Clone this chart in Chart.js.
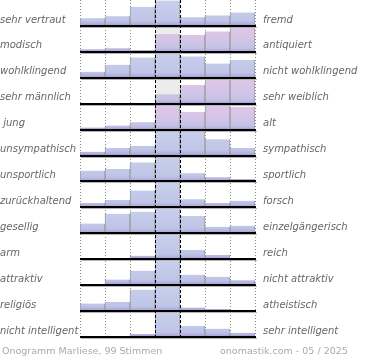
<!DOCTYPE html>
<html><head><meta charset="utf-8">
<script src="https://cdn.jsdelivr.net/npm/chart.js@4.4.1/dist/chart.umd.min.js"></script>
<style>
html,body{margin:0;padding:0;background:#fff;}
#wrap{position:relative;width:370px;height:360px;overflow:hidden;}
canvas{position:absolute;left:0;top:0;}
.foot{position:absolute;top:345px;font:9.5px "DejaVu Sans",sans-serif;color:#aaa;white-space:nowrap;line-height:12px;}
</style></head><body>
<div id="wrap"><canvas id="c" width="370" height="360"></canvas>
<div class="foot" style="left:2px">Onogramm Marliese, 99 Stimmen</div>
<div class="foot" style="left:220px">onomastik.com - 05 / 2025</div>
</div>
<script>
// ---- data ----
const bins = ['1','2','3','4','5','6','7'];
const leftLabels = ['sehr vertraut','modisch','wohlklingend','sehr männlich',' jung','unsympathisch','unsportlich','zurückhaltend','gesellig','arm','attraktiv','religiös','nicht intelligent'];
const rightLabels = ['fremd','antiquiert','nicht wohlklingend','sehr weiblich','alt','sympathisch','sportlich','forsch','einzelgängerisch','reich','nicht attraktiv','atheistisch','sehr intelligent'];

const rowVertraut       = [8,10,20,26,9,11,14];
const rowModisch        = [3,4,2,20,19,23,28];
const rowWohlklingend   = [5,11,17,21,18,12,15];
const rowMaennlich      = [0,0,0,12,24,31,32];
const rowJung           = [2,4,7,23,17,24,22];
const rowUnsympathisch  = [4,8,10,26,26,17,8];
const rowUnsportlich    = [13,15,23,30,10,5,3];
const rowZurueckhaltend = [6,10,23,34,11,6,9];
const rowGesellig       = [9,18,20,23,16,6,7];
const rowArm            = [0,0,8,59,22,10,0];
const rowAttraktiv      = [0,8,21,36,15,12,7];
const rowReligioes      = [11,13,31,36,5,3,0];
const rowIntelligent    = [0,0,6,48,21,16,8];

const rows = [rowVertraut,rowModisch,rowWohlklingend,rowMaennlich,rowJung,rowUnsympathisch,
  rowUnsportlich,rowZurueckhaltend,rowGesellig,rowArm,rowAttraktiv,rowReligioes,rowIntelligent];

// ---- styling helpers ----
const FULL = 0.96;
const gradCache = {};
function rowGradient(chart, r, vals){
  const ca = chart.chartArea, ys = chart.scales && chart.scales.y;
  if (!ca || !ys) return '#c3c9e8';
  const top = ys.getPixelForValue(r), bot = ys.getPixelForValue(r + 1);
  const key = r + '_' + top + '_' + bot;
  if (gradCache[key]) return gradCache[key];
  const g = chart.ctx.createLinearGradient(0, top, 0, bot);
  const pink = vals.indexOf(Math.max(...vals)) > 3;
  if (pink) {
    g.addColorStop(0, '#e0c6e6'); g.addColorStop(0.5, '#d5c5e7');
    g.addColorStop(0.85, '#c4c2e6'); g.addColorStop(0.93, '#b8b2df'); g.addColorStop(1, '#a294cc');
  } else {
    g.addColorStop(0, '#c9d0ec'); g.addColorStop(0.8, '#bfc5e7');
    g.addColorStop(0.92, '#b3afde'); g.addColorStop(1, '#9e92cb');
  }
  gradCache[key] = g;
  return g;
}

const datasets = rows.map((vals, r) => {
  const mx = Math.max(...vals);
  return {
    data: vals.map(v => [r + 1, r + 1 - FULL * v / mx]),
    backgroundColor: (ctx) => rowGradient(ctx.chart, r, vals),
    borderColor: '#9a9a9a',
    borderWidth: {left: 1, right: 1, top: 0, bottom: 0},
    borderSkipped: false,
    grouped: false,
    barPercentage: 1,
    categoryPercentage: 1
  };
});

const overlay = {
  id: 'overlay',
  beforeDatasetsDraw(chart){
    const {ctx, chartArea: ca, scales: {x}} = chart;
    const w = x.width / bins.length;
    ctx.save();
    ctx.fillStyle = '#ececec';
    ctx.fillRect(x.left + 3 * w, ca.top, w, ca.bottom - ca.top);
    ctx.strokeStyle = '#8a8a8a'; ctx.lineWidth = 1; ctx.setLineDash([1, 2]);
    for (let k = 0; k <= bins.length; k++) {
      if (k === 3 || k === 4) continue;
      const px = Math.round(x.left + k * w) + 0.5;
      ctx.beginPath(); ctx.moveTo(px, ca.top); ctx.lineTo(px, ca.bottom + 1); ctx.stroke();
    }
    ctx.restore();
  },
  afterDatasetsDraw(chart){
    const {ctx, chartArea: ca, scales: {x, y}} = chart;
    const w = x.width / bins.length;
    ctx.save();
    for (let r = 0; r < rows.length; r++) {
      const yb = Math.round(y.getPixelForValue(r + 1));
      ctx.fillStyle = '#b4b4b4';
      ctx.fillRect(x.left + 1, yb + 1, x.width + 1, 1);
      ctx.fillStyle = '#000';
      ctx.fillRect(x.left, yb - 1, x.width + 1, 2);
    }
    ctx.strokeStyle = '#000'; ctx.lineWidth = 1; ctx.setLineDash([3, 2]);
    for (const k of [3, 4]) {
      const px = Math.round(x.left + k * w) + 0.5;
      ctx.beginPath(); ctx.moveTo(px, ca.top); ctx.lineTo(px, ca.bottom + 1); ctx.stroke();
    }
    ctx.restore();
  }
};

const tickFont = {family: 'DejaVu Sans', size: 10, style: 'italic'};
const TICK_POS = 0.77;

new Chart(document.getElementById('c'), {
  type: 'bar',
  data: {labels: bins, datasets},
  plugins: [overlay],
  options: {
    responsive: false,
    devicePixelRatio: 1,
    animation: false,
    layout: {autoPadding: false, padding: {left: 0, right: 0, top: 0, bottom: 23}},
    plugins: {legend: {display: false}, tooltip: {enabled: false}},
    scales: {
      x: {display: false, offset: true},
      y: {
        type: 'linear', position: 'left', min: 0, max: rows.length, reverse: true,
        grid: {display: false, drawTicks: false}, border: {display: false},
        afterBuildTicks: (s) => { s.ticks = leftLabels.map((_, i) => ({value: i + TICK_POS})); },
        afterFit: (s) => { s.width = 80; s.paddingTop = 0; s.paddingBottom = 0; },
        ticks: {autoSkip: false, crossAlign: 'far', padding: 0, color: '#666', font: tickFont,
          callback: (v, i) => leftLabels[i]}
      },
      y2: {
        type: 'linear', position: 'right', min: 0, max: rows.length, reverse: true,
        grid: {display: false, drawTicks: false}, border: {display: false},
        afterBuildTicks: (s) => { s.ticks = rightLabels.map((_, i) => ({value: i + TICK_POS})); },
        afterFit: (s) => { s.width = 115; s.paddingTop = 0; s.paddingBottom = 0; },
        ticks: {autoSkip: false, crossAlign: 'near', padding: 8, color: '#666', font: tickFont,
          callback: (v, i) => rightLabels[i]}
      }
    }
  }
});
</script>
</body></html>
